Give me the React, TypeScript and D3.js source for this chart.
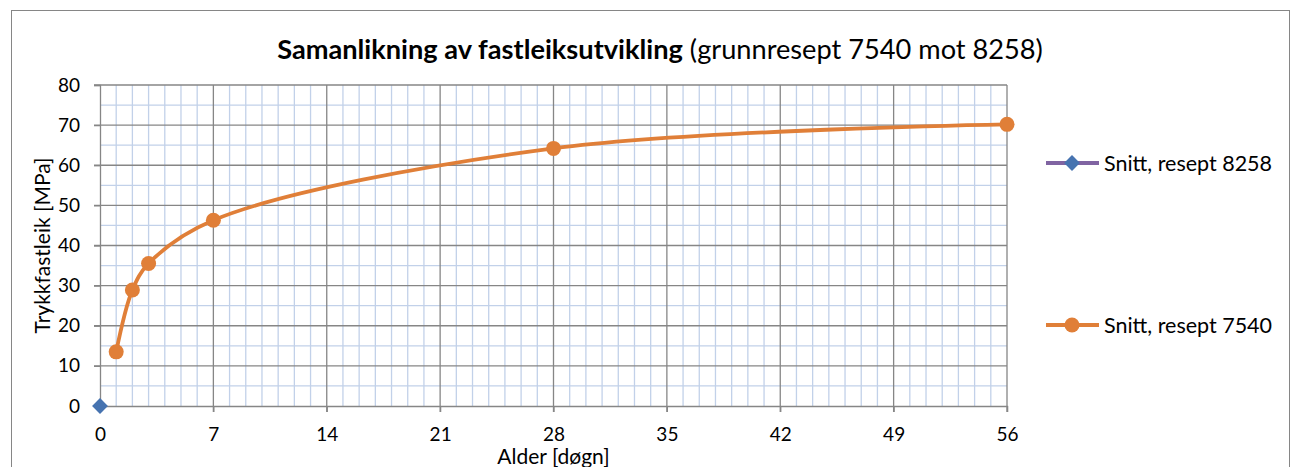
import React, { useEffect, useRef } from 'react'
import * as d3 from 'd3'

const days7540 = [1, 2, 3, 7, 28, 56]
const mpa7540 = [13.5, 28.9, 35.5, 46.3, 64.2, 70.2]
const days8258 = [0]
const mpa8258 = [0]
const xTicks = [0, 7, 14, 21, 28, 35, 42, 49, 56]
const yTicks = [0, 10, 20, 30, 40, 50, 60, 70, 80]
const seriesNames = ['Snitt, resept 8258', 'Snitt, resept 7540']

const W = 1291
const H = 467
const FONT = 'Lato, "Open Sans", sans-serif'

const App = () => {
    const ref = useRef<SVGSVGElement>(null)

    useEffect(() => {
        const svg = d3.select(ref.current)
        svg.selectAll('*').remove()

        const left = 100, right = 1007, top = 85, bottom = 406
        const x = d3.scaleLinear().domain([0, 56]).range([left, right])
        const y = d3.scaleLinear().domain([0, 80]).range([bottom, top])

        // outer frame
        svg.append('rect')
            .attr('x', 11.5).attr('y', 10.5)
            .attr('width', 1278).attr('height', 470)
            .attr('fill', '#fff').attr('stroke', '#868686')

        // minor grid
        const grid = svg.append('g')
        grid.selectAll('line.mx')
            .data(d3.range(0, 57, 1).filter(d => d % 7 !== 0))
            .enter().append('line')
            .attr('x1', d => x(d)).attr('x2', d => x(d))
            .attr('y1', top).attr('y2', bottom)
            .attr('stroke', '#c2d1e9').attr('stroke-width', 1.3)
        grid.selectAll('line.my')
            .data(d3.range(5, 80, 10))
            .enter().append('line')
            .attr('y1', d => y(d)).attr('y2', d => y(d))
            .attr('x1', left).attr('x2', right)
            .attr('stroke', '#c2d1e9').attr('stroke-width', 1.3)

        // major grid
        grid.selectAll('line.Mx')
            .data(xTicks.slice(1))
            .enter().append('line')
            .attr('x1', d => x(d)).attr('x2', d => x(d))
            .attr('y1', top).attr('y2', bottom + 6)
            .attr('stroke', '#868686').attr('stroke-width', 1.3)
        grid.selectAll('line.My')
            .data(yTicks.slice(1))
            .enter().append('line')
            .attr('y1', d => y(d)).attr('y2', d => y(d))
            .attr('x1', left - 6).attr('x2', right)
            .attr('stroke', '#868686').attr('stroke-width', 1.3)

        // axes
        svg.append('g')
            .attr('transform', `translate(0, ${bottom})`)
            .call(d3.axisBottom(x).tickValues(xTicks).tickSize(6).tickPadding(16))
            .call(g => g.select('.domain').attr('stroke', '#868686').attr('stroke-width', 1.3))
            .call(g => g.selectAll('line').attr('stroke', '#868686').attr('stroke-width', 1.3))
            .call(g => g.selectAll('text').attr('font-size', 19).attr('font-family', FONT).attr('fill', '#000'))
        svg.append('g')
            .attr('transform', `translate(${left}, 0)`)
            .call(d3.axisLeft(y).tickValues(yTicks).tickSize(6).tickPadding(14))
            .call(g => g.select('.domain').attr('stroke', '#868686').attr('stroke-width', 1.3))
            .call(g => g.selectAll('line').attr('stroke', '#868686').attr('stroke-width', 1.3))
            .call(g => g.selectAll('text').attr('font-size', 19).attr('font-family', FONT).attr('fill', '#000'))

        // 7540 series
        const pts = days7540.map((d, i) => [d, mpa7540[i]] as [number, number])
        const line = d3.line<[number, number]>()
            .x(d => x(d[0])).y(d => y(d[1]))
            .curve(d3.curveCatmullRom.alpha(0.5))
        svg.append('path')
            .datum(pts)
            .attr('d', line)
            .attr('fill', 'none')
            .attr('stroke', '#e07f38')
            .attr('stroke-width', 3.8)
        svg.selectAll('circle.p')
            .data(pts)
            .enter().append('circle')
            .attr('cx', d => x(d[0])).attr('cy', d => y(d[1]))
            .attr('r', 7.5).attr('fill', '#e07f38')

        // 8258 series
        const diamond = d3.symbol().type(d3.symbolDiamond2).size(160)
        svg.selectAll('path.d')
            .data(days8258.map((d, i) => [d, mpa8258[i]]))
            .enter().append('path')
            .attr('d', diamond)
            .attr('transform', d => `translate(${x(d[0])}, ${y(d[1])})`)
            .attr('fill', '#4673b0')

        // legend
        const lg = svg.append('g').attr('font-family', FONT).attr('font-size', 21.5)
        const ly = [163, 325]
        lg.append('line').attr('x1', 1046).attr('x2', 1099).attr('y1', ly[0]).attr('y2', ly[0])
            .attr('stroke', '#8064a2').attr('stroke-width', 3.8)
        lg.append('path').attr('d', diamond).attr('transform', `translate(1072, ${ly[0]})`).attr('fill', '#4673b0')
        lg.append('line').attr('x1', 1046).attr('x2', 1099).attr('y1', ly[1]).attr('y2', ly[1])
            .attr('stroke', '#e07f38').attr('stroke-width', 3.8)
        lg.append('circle').attr('cx', 1072).attr('cy', ly[1]).attr('r', 7.5).attr('fill', '#e07f38')
        seriesNames.forEach((n, i) => {
            lg.append('text').attr('x', 1104).attr('y', ly[i]).attr('dy', '0.35em').text(n)
        })

        // title
        const t = svg.append('text')
            .attr('x', 660).attr('y', 59)
            .attr('text-anchor', 'middle')
            .attr('font-family', FONT).attr('font-size', 27.2)
        t.append('tspan').attr('font-weight', 'bold').text('Samanlikning av fastleiksutvikling')
        t.append('tspan').text(' (grunnresept 7540 mot 8258)')

        // axis titles
        svg.append('text')
            .attr('transform', `translate(50, ${(top + bottom) / 2}) rotate(-90)`)
            .attr('text-anchor', 'middle')
            .attr('font-family', FONT).attr('font-size', 21)
            .text('Trykkfastleik [MPa]')
        svg.append('text')
            .attr('x', (left + right) / 2).attr('y', 464)
            .attr('text-anchor', 'middle')
            .attr('font-family', FONT).attr('font-size', 21)
            .text('Alder [døgn]')
    }, [])

    return (
        <svg ref={ref} width={W} height={H} style={{ position: 'absolute', left: 0, top: 0, background: '#fff' }}></svg>
    )
}

export default App
